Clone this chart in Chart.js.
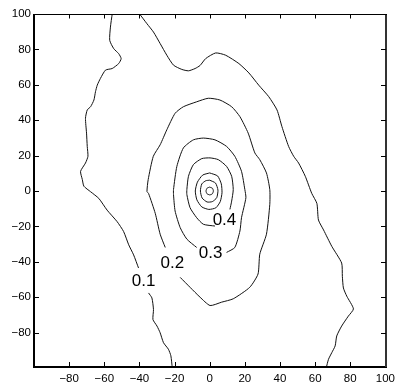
<!DOCTYPE html>
<html>
<head>
<meta charset="utf-8">
<script src="https://cdn.jsdelivr.net/npm/chart.js@4/dist/chart.umd.min.js"></script>
<style>
  html, body { margin: 0; padding: 0; background: #fff; }
  canvas { display: block; }
</style>
</head>
<body>
<canvas id="chart" width="399" height="384"></canvas>
<script>
// contour lines, [x, y] pairs; null = gap where a level label sits
const level01Left = [
  [-55.5, 100], [-56.5, 92.6], [-56.9, 85.1], [-54.6, 80.4], [-51.8, 77.6], [-50.4, 74.8],
  [-51.8, 72.0], [-55.5, 69.2], [-59.3, 68.3], [-62.2, 63.6], [-64.0, 59.8], [-65.0, 56.1],
  [-65.9, 51.4], [-67.8, 47.6], [-69.7, 45.8], [-70.7, 41.1], [-70.1, 32.7], [-69.7, 25.2],
  [-69.3, 19.6], [-70.7, 15.8], [-73.5, 11.1], [-72.5, 6.5], [-71.6, 2.7], [-67.8, -0.4],
  [-63.1, -4.2], [-58.4, -10.8], [-52.7, -17.3], [-49.0, -22.9], [-46.1, -30.4], [-43.3, -36.1],
  [-40.5, -43.5], null, [-34.8, -57.6], [-32.9, -60.4], [-32.0, -67.0], [-32.3, -72.6],
  [-30.0, -76.3], [-28.2, -80.1], [-26.3, -85.7], [-23.5, -89.4], [-22.1, -93.1], [-21.3, -100]
];
const level01Right = [
  [-39.9, 100], [-35.7, 94.5], [-32.0, 89.8], [-28.2, 83.3], [-24.4, 76.7], [-20.6, 71.1],
  [-15.9, 68.7], [-12.1, 67.9], [-8.3, 69.2], [-5.5, 70.9], [-2.3, 74.8], [3.4, 78.0],
  [9.1, 76.7], [16.6, 72.0], [22.3, 66.7], [27.9, 59.8], [33.6, 53.3], [38.3, 45.8],
  [41.1, 36.4], [44.9, 25.2], [47.8, 19.6], [50.6, 15.8], [54.4, 8.3], [58.1, -1.4],
  [61.0, -7.0], [61.9, -16.4], [64.8, -22.0], [69.5, -31.3], [75.1, -40.7], [75.5, -48.2],
  [76.1, -54.8], [78.0, -59.4], [81.8, -66.6], [78.9, -70.7], [75.1, -76.3], [72.3, -81.9],
  [71.4, -87.5], [69.5, -91.3], [67.6, -95.1], [66.3, -100]
];
const level02 = [
  [-16.8, -48.8], [-11.2, -54.4], [-5.5, -60.0], [0.2, -64.7], [6.8, -62.8], [13.4, -60.9],
  [22.8, -54.4], [27.5, -46.9], [28.5, -35.7], [32.3, -24.4], [34.2, -7.6], [34.2, 0.8],
  [32.3, 10.2], [28.5, 17.7], [25.7, 21.5], [21.9, 32.7], [17.2, 42.0], [12.5, 47.6],
  [5.8, 51.4], [-0.8, 52.4], [-7.4, 50.4], [-15.0, 47.6], [-19.7, 43.9], [-24.4, 34.6],
  [-28.2, 26.1], [-32.1, 19.6], [-35.0, 6.5], [-35.7, -0.3], [-34.8, -1.4], [-31.0, -12.6],
  [-28.2, -24.4], [-25.3, -31.9]
];
const level03 = [
  [-7.4, -31.9], [-13.0, -27.2], [-16.8, -20.7], [-19.7, -11.3], [-20.6, -2.0], [-20.6, 0.8],
  [-18.7, 13.9], [-15.0, 24.3], [-9.3, 28.9], [-3.6, 29.9], [3.0, 28.9], [9.6, 25.2],
  [14.3, 19.6], [18.1, 11.1], [20.0, 0.8], [20.6, -3.8], [18.1, -15.1], [17.2, -22.6],
  [14.3, -31.9], [9.6, -34.7]
];
const level04 = [
  [3.0, -19.8], [-3.6, -18.8], [-7.4, -15.1], [-11.2, -9.4], [-13.0, -2.0], [-13.0, 0.8],
  [-12.1, 8.3], [-9.3, 14.9], [-4.5, 18.3], [0.2, 18.7], [4.9, 17.7], [9.6, 13.9],
  [12.5, 8.3], [13.4, 0.8], [12.5, -5.7], [11.5, -10.4]
];
const level05 = [
  [0, 10.2], [4.5, 8.5], [6.6, 4], [7, -1], [6, -6], [3.5, -9.5], [-0.5, -10.4],
  [-4.5, -9], [-7.3, -5], [-8.2, 0], [-7, 5], [-4, 9], [0, 10.2]
];
const level06 = [
  [0, 6.1], [3.3, 4.5], [4.7, 0.5], [4, -3.8], [1.5, -6], [-1.5, -6.2], [-4.3, -4],
  [-5.3, 0], [-4.5, 4], [-2.2, 5.8], [0, 6.1]
];
const level07 = [
  [0, 2.2], [1.6, 1.5], [2.1, 0], [1.5, -1.6], [0, -2.2], [-1.6, -1.5], [-2.1, 0],
  [-1.5, 1.6], [0, 2.2]
];

const labelText = ["0.1", "0.2", "0.3", "0.4"];
const labelX = [-37.6, -21.3, 0.5, 8.4];
const labelY = [-51.0, -40.7, -35.1, -16.6];

const lines = [level01Left, level01Right, level02, level03, level04, level05, level06, level07];

const toPoints = arr => arr.map(p => p ? {x: p[0], y: p[1]} : {x: null, y: null});

const FONT = '"Liberation Sans", Arial, Helvetica, sans-serif';
const fmt = v => v === -100 ? "" : String(v).replace("-", "\u2212");

// frame, inward ticks on all four sides, level labels
const framePlugin = {
  id: "frame",
  afterDatasetsDraw(chart) {
    const {ctx, chartArea: a, scales: {x, y}} = chart;
    const L = Math.round(a.left), R = Math.round(a.right) + 1;
    const T = Math.round(a.top) + 0.5, B = Math.round(a.bottom) - 1;
    ctx.save();
    ctx.strokeStyle = "#000";
    // left + bottom heavier, top + right lighter
    ctx.lineWidth = 2;
    ctx.beginPath();
    ctx.moveTo(L, T - 0.5); ctx.lineTo(L, B + 1);
    ctx.moveTo(L - 1, B); ctx.lineTo(R + 1, B);
    ctx.stroke();
    ctx.strokeStyle = "#333";
    ctx.beginPath();
    ctx.moveTo(R, B); ctx.lineTo(R, T - 0.5);
    ctx.stroke();
    ctx.strokeStyle = "#000";
    ctx.lineWidth = 1;
    ctx.beginPath();
    ctx.moveTo(L, T); ctx.lineTo(R + 1, T);
    ctx.stroke();

    ctx.beginPath();
    x.ticks.forEach(t => {
      if (t.value <= -100 || t.value >= 100) return;
      const px = Math.round(x.getPixelForValue(t.value)) + 0.5;
      ctx.moveTo(px, B); ctx.lineTo(px, B - 5);
      ctx.moveTo(px, T); ctx.lineTo(px, T + 4);
    });
    y.ticks.forEach(t => {
      if (t.value <= -100 || t.value >= 100) return;
      const py = Math.round(y.getPixelForValue(t.value)) + 0.5;
      ctx.moveTo(L, py); ctx.lineTo(L + 5, py);
      ctx.moveTo(R, py); ctx.lineTo(R - 5, py);
    });
    ctx.stroke();

    ctx.fillStyle = "#000";
    ctx.font = "17px " + FONT;
    ctx.textAlign = "center";
    ctx.textBaseline = "middle";
    labelText.forEach((t, i) => {
      ctx.fillText(t, x.getPixelForValue(labelX[i]), y.getPixelForValue(labelY[i]));
    });
    ctx.restore();
  }
};

new Chart(document.getElementById("chart").getContext("2d"), {
  type: "scatter",
  data: {
    datasets: lines.map(l => ({
      data: toPoints(l),
      showLine: true,
      borderColor: "#111",
      borderWidth: 1,
      pointRadius: 0,
      tension: 0.2,
      spanGaps: false
    }))
  },
  options: {
    responsive: false,
    animation: false,
    layout: {padding: {top: 14, right: 13, bottom: 0, left: 0}},
    plugins: {legend: {display: false}, tooltip: {enabled: false}},
    scales: {
      x: {
        type: "linear", min: -100, max: 100,
        ticks: {stepSize: 20, padding: 4, color: "#000", font: {family: FONT, size: 11.5},
                maxRotation: 0, autoSkip: false, callback: fmt},
        grid: {display: true, drawOnChartArea: false, drawTicks: false},
        border: {display: false},
        afterFit: s => { s.height = 16; }
      },
      y: {
        type: "linear", min: -100, max: 100,
        ticks: {stepSize: 20, padding: 3, color: "#000", font: {family: FONT, size: 11.5},
                autoSkip: false, callback: fmt},
        grid: {display: true, drawOnChartArea: false, drawTicks: false},
        border: {display: false},
        afterFit: s => { s.width = 34; }
      }
    }
  },
  plugins: [framePlugin]
});
</script>
</body>
</html>
